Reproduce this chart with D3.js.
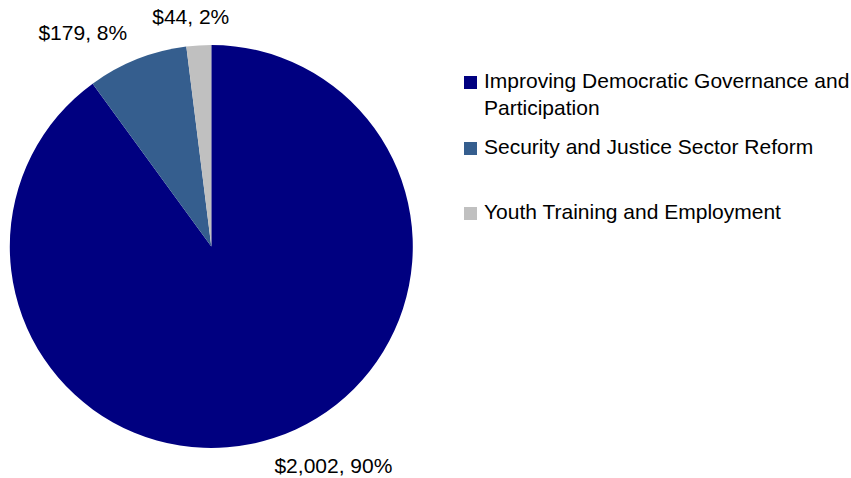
<!DOCTYPE html>
<html>
<head>
<meta charset="utf-8">
<script src="https://cdn.jsdelivr.net/npm/d3@7/dist/d3.min.js"></script>
<style>
  html, body { margin: 0; padding: 0; background: #ffffff; }
  svg { display: block; }
  text { font-family: "Liberation Sans", Arial, sans-serif; fill: #000; }
</style>
</head>
<body>
<script>
// Programme funding by area (in thousands of dollars)
const categories = [
  "Improving Democratic Governance and Participation",
  "Security and Justice Sector Reform",
  "Youth Training and Employment"
];
const values = [2002, 179, 44];
const colors = ["#000080", "#355e8e", "#c0c0c0"];
// Legend lines (the first entry wraps onto two lines)
const legendLines = [
  ["Improving Democratic Governance and", "Participation"],
  ["Security and Justice Sector Reform"],
  ["Youth Training and Employment"]
];

const W = 851, H = 478;
const cx = 211.3, cy = 246.5, R = 201.5;
const fontSize = 21;

const svg = d3.select("body").append("svg")
  .attr("width", W).attr("height", H);

const total = d3.sum(values);
const data = categories.map((c, i) => ({ name: c, value: values[i], color: colors[i] }));

const pie = d3.pie().value(d => d.value).sort(null);
const arcs = pie(data);
const arc = d3.arc().innerRadius(0).outerRadius(R);
const labelArc = d3.arc().innerRadius(R + 10).outerRadius(R + 10);

const g = svg.append("g").attr("transform", `translate(${cx},${cy})`);

g.selectAll("path.slice")
  .data(arcs)
  .join("path")
  .attr("class", "slice")
  .attr("d", arc)
  .attr("fill", d => d.data.color);

// Value labels outside the pie, pushed away along the slice direction
const fmt = d3.format(",");
g.selectAll("text.lbl")
  .data(arcs)
  .join("text")
  .attr("class", "lbl")
  .attr("font-size", fontSize)
  .attr("text-anchor", "middle")
  .text(d => `$${fmt(d.data.value)}, ${Math.round(d.data.value / total * 100)}%`)
  .each(function (d) {
    const [px, py] = labelArc.centroid(d);
    const a = (d.startAngle + d.endAngle) / 2;
    const w = this.getComputedTextLength();
    const x = px + Math.sin(a) * w * 1.55;
    const yc = py - Math.cos(a) * 18.5;
    d3.select(this).attr("x", x).attr("y", yc + 7.5);
  });

// Legend
const legend = svg.append("g").attr("transform", "translate(464,76)");
const item = legend.selectAll("g.item")
  .data(data)
  .join("g")
  .attr("class", "item")
  .attr("transform", (d, i) => `translate(0,${[0, 66, 131][i]})`);

item.append("rect")
  .attr("width", 13).attr("height", 13)
  .attr("fill", d => d.color);

item.append("text")
  .attr("font-size", fontSize)
  .attr("x", 20)
  .attr("y", 11.8)
  .each(function (d, i) {
    d3.select(this).selectAll("tspan")
      .data(legendLines[i])
      .join("tspan")
      .attr("x", 20)
      .attr("dy", (t, j) => j === 0 ? 0 : 26.7)
      .text(t => t);
  });
</script>
</body>
</html>
